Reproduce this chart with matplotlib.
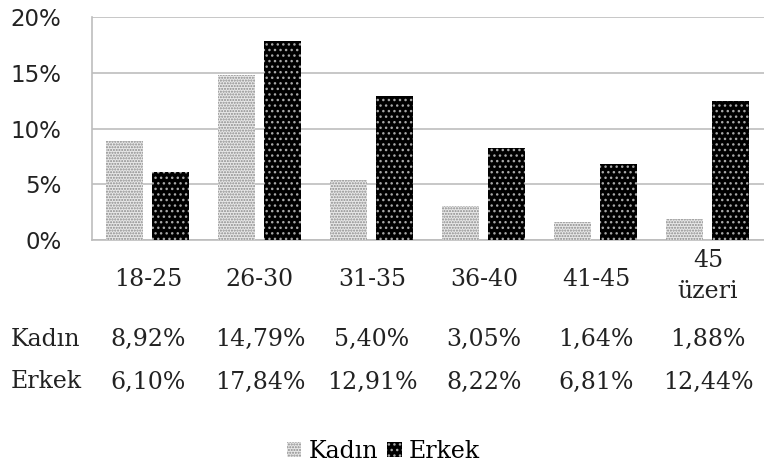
import numpy as np
import matplotlib.pyplot as plt
from matplotlib.patches import Patch

categories = ["18-25", "26-30", "31-35", "36-40", "41-45", "45\nüzeri"]
kadin = [8.92, 14.79, 5.40, 3.05, 1.64, 1.88]
erkek = [6.10, 17.84, 12.91, 8.22, 6.81, 12.44]
kadin_lbl = ["8,92%", "14,79%", "5,40%", "3,05%", "1,64%", "1,88%"]
erkek_lbl = ["6,10%", "17,84%", "12,91%", "8,22%", "6,81%", "12,44%"]
yticks = [0, 5, 10, 15, 20]

plt.rcParams['hatch.linewidth'] = 1.0
serif = ['DejaVu Serif']
sans = ['DejaVu Sans']
txt = '#222222'
fs = 17

fig = plt.figure(figsize=(7.64, 4.67), dpi=100)
ax = fig.add_axes([0.1204, 0.486, 0.8796, 0.4776])

x = np.arange(len(categories))
w = 0.335
ax.bar(x - 0.21, kadin, w, facecolor='#e8e8e8', edgecolor='#8a8a8a', hatch='......', linewidth=0, zorder=3)
ax.bar(x + 0.2, erkek, w, facecolor='black', edgecolor='#a8a8a8', hatch='...', linewidth=0, zorder=3)

ax.set_xlim(-0.5, len(categories) - 0.5)
ax.set_ylim(0, 20)
ax.set_yticks(yticks)
ax.set_yticklabels([f"{v}%" for v in yticks], fontsize=16.5, family=sans, color=txt)
ax.set_xticks([])
ax.grid(axis='y', color='#bdbdbd', linewidth=1.2, zorder=0)
for s in ['top', 'right']:
    ax.spines[s].set_visible(False)
for s in ['left', 'bottom']:
    ax.spines[s].set_color('#bdbdbd')
    ax.spines[s].set_linewidth(1.2)
ax.tick_params(axis='y', length=0, pad=22)

# data table below the axis
tr = ax.get_xaxis_transform()
for i, c in enumerate(categories):
    ax.text(i, -0.175 if "\n" not in c else -0.162, c, transform=tr, ha='center', va='center',
            fontsize=fs, family=serif, color=txt, linespacing=1.45)
    ax.text(i, -0.444, kadin_lbl[i], transform=tr, ha='center', va='center',
            fontsize=fs, family=serif, color=txt)
    ax.text(i, -0.637, erkek_lbl[i], transform=tr, ha='center', va='center',
            fontsize=fs, family=serif, color=txt)
fig.text(0.014, 1 - 339 / 467, "Kadın", ha='left', va='center', fontsize=fs, family=serif, color=txt)
fig.text(0.014, 1 - 382 / 467, "Erkek", ha='left', va='center', fontsize=fs, family=serif, color=txt)

handles = [Patch(facecolor='#e8e8e8', edgecolor='#8a8a8a', hatch='......', linewidth=0),
           Patch(facecolor='black', edgecolor='#a8a8a8', hatch='...', linewidth=0)]
fig.legend(handles, ["Kadın", "Erkek"], loc='center', bbox_to_anchor=(0.502, 1 - 451 / 467),
           ncol=2, frameon=False, prop={'family': serif, 'size': fs},
           handlelength=0.6, handleheight=0.6, handletextpad=0.3, columnspacing=0.4)

fig.savefig("out.png", dpi=100)
